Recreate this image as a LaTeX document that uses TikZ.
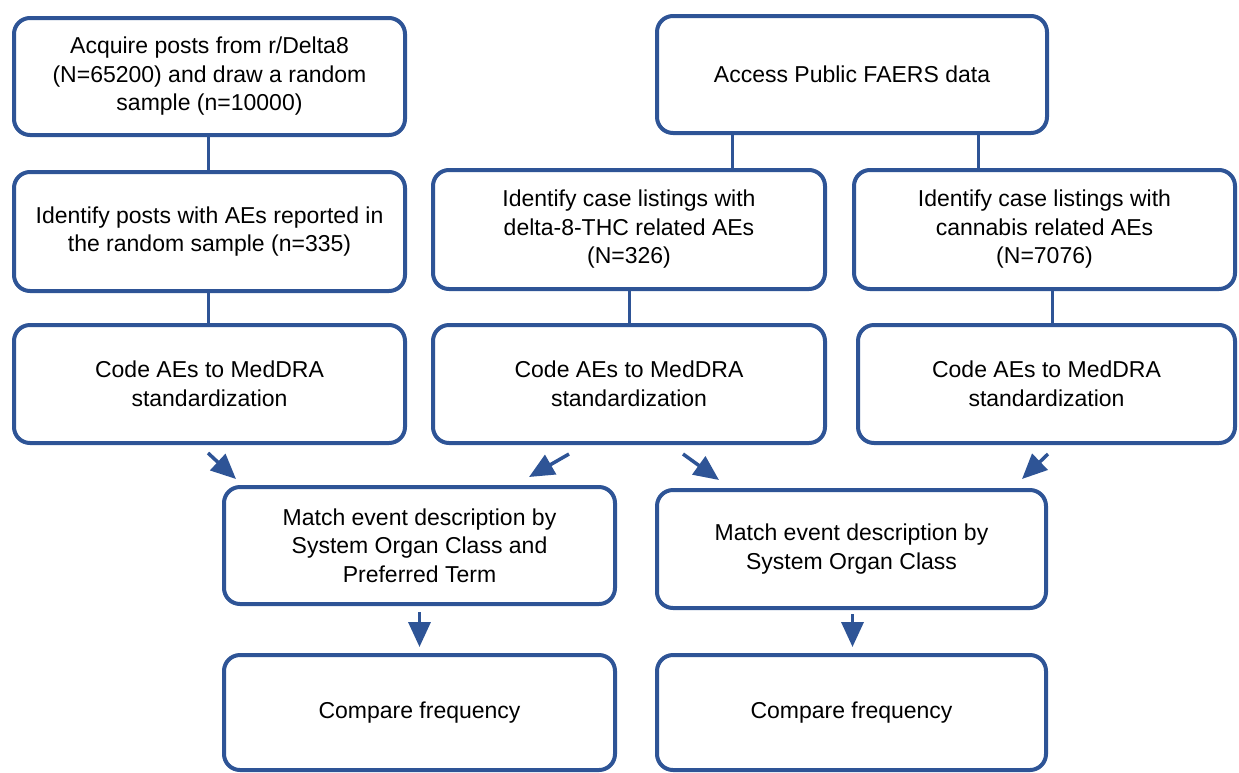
\documentclass[tikz,border=0pt]{standalone}
\usepackage{fontspec}
\setmainfont{Liberation Sans}
\usetikzlibrary{arrows.meta}
\definecolor{boxblue}{RGB}{46,84,150}
\tikzset{
  box/.style={draw=boxblue, line width=4pt, rounded corners=16pt, fill=white,
    align=center, inner sep=0pt, font=\fontsize{23}{28.5}\selectfont},
  link/.style={draw=boxblue, line width=3pt},
  arr/.style={draw=boxblue, line width=3.5pt, -{Triangle[length=25pt,width=22pt]}}
}
\begin{document}
\begin{tikzpicture}[x=1pt,y=-1pt]
\useasboundingbox (0,0) rectangle (1239,772);
\clip (0,0) rectangle (1239,772);
% left column
\node[box, minimum width=391pt, minimum height=117pt] (A) at (209.5,76.5)
  {Acquire posts from r/Delta8\\(N=65200) and draw a random\\sample (n=10000)};
\node[box, minimum width=391pt, minimum height=119pt] (B) at (209.5,231.5)
  {Identify posts with AEs reported in\\the random sample (n=335)};
\node[box, minimum width=391pt, minimum height=118pt] (C) at (209.5,384)
  {Code AEs to MedDRA\\standardization};
% FAERS
\node[box, minimum width=390pt, minimum height=117pt] (D) at (852,74.5)
  {Access Public FAERS data};
\node[box, minimum width=392pt, minimum height=119pt] (E) at (629,229.5)
  {Identify case listings with\\delta-8-THC related AEs\\(N=326)};
\node[box, minimum width=381pt, minimum height=119pt] (F) at (1044.5,229.5)
  {Identify case listings with\\cannabis related AEs\\(N=7076)};
\node[box, minimum width=392pt, minimum height=118pt] (G) at (629,384)
  {Code AEs to MedDRA\\standardization};
\node[box, minimum width=377pt, minimum height=118pt] (H) at (1046.5,384)
  {Code AEs to MedDRA\\standardization};
% lower
\node[box, minimum width=391pt, minimum height=117pt] (I) at (419.5,545.5)
  {Match event description by\\System Organ Class and\\Preferred Term};
\node[box, minimum width=389pt, minimum height=118pt] (J) at (851.5,549)
  {Match event description by\\System Organ Class};
\node[box, minimum width=391pt, minimum height=115pt] (K) at (419.5,712.5)
  {Compare frequency};
\node[box, minimum width=389pt, minimum height=115pt] (L) at (851.5,712.5)
  {Compare frequency};
% plain connectors
\draw[link] ([xshift=-1.5pt]A.south) -- ([xshift=-1.5pt]B.north);
\draw[link] ([xshift=-1.5pt]B.south) -- ([xshift=-1.5pt]C.north);
\draw[link] ([xshift=-120pt]D.south) -- ([xshift=-120pt]D.south |- E.north);
\draw[link] ([xshift=126pt]D.south) -- ([xshift=126pt]D.south |- F.north);
\draw[link] (E.south) -- (G.north);
\draw[link] ([xshift=7.5pt]F.south) -- ([xshift=7.5pt]F.south |- H.north);
% arrows
\draw[arr] ([xshift=-1.5pt,yshift=-8pt]C.south) -- ([xshift=14pt,yshift=6pt]I.north west);
\draw[arr] ([xshift=-60pt,yshift=-9pt]G.south) -- ([xshift=-88pt,yshift=8pt]I.north east);
\draw[arr] ([xshift=54pt,yshift=-9pt]G.south) -- ([xshift=64pt,yshift=8pt]J.north west);
\draw[arr] ([xshift=1.5pt,yshift=-9pt]H.south) -- ([xshift=-26pt,yshift=9pt]J.north east);
\draw[arr] ([yshift=-6pt]I.south) -- ([yshift=6pt]K.north);
\draw[arr] ([xshift=1pt,yshift=-4pt]J.south) -- ([xshift=1pt,yshift=6pt]L.north);
\end{tikzpicture}
\end{document}
